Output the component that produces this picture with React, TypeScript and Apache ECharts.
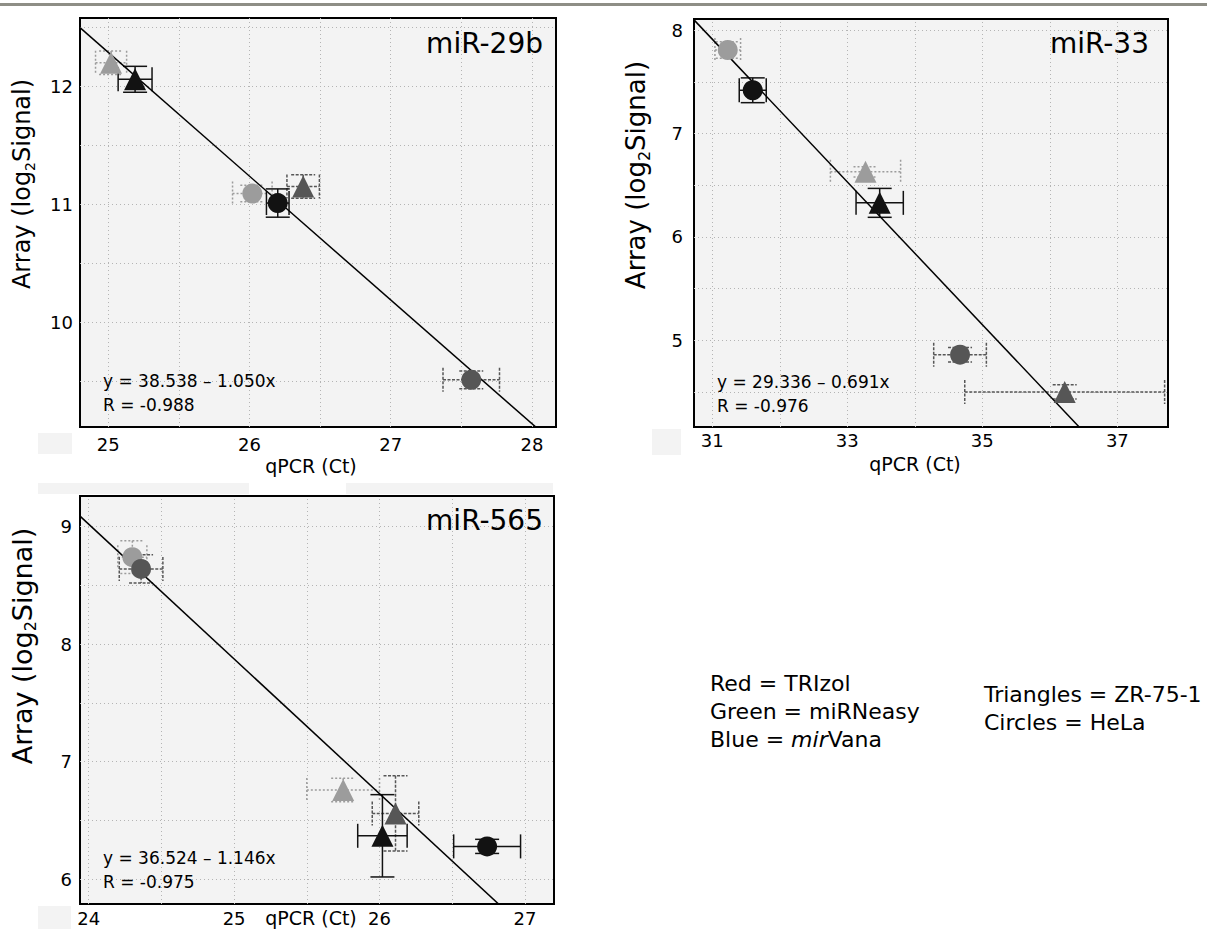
import React, { useEffect, useRef } from "react";
import * as echarts from "echarts";

// ---------- data ----------
// point order: miRNeasy ZR-75-1, miRNeasy HeLa, TRIzol ZR-75-1, TRIzol HeLa, mirVana ZR-75-1, mirVana HeLa
const pointMethod = [1, 1, 0, 0, 2, 2]; // 0 = TRIzol, 1 = miRNeasy, 2 = mirVana
const pointCell = ["ZR-75-1", "HeLa", "ZR-75-1", "HeLa", "ZR-75-1", "HeLa"];

const mir29bCt = [25.02, 26.02, 26.38, 27.57, 25.19, 26.2];
const mir29bArray = [12.2, 11.09, 11.15, 9.51, 12.06, 11.01];
const mir29bCtErr = [0.11, 0.14, 0.115, 0.2, 0.12, 0.08];
const mir29bArrayErr = [0.1, 0.07, 0.1, 0.075, 0.11, 0.12];

const mir33Ct = [33.27, 31.23, 36.22, 34.67, 33.48, 31.6];
const mir33Array = [6.63, 7.81, 4.5, 4.86, 6.33, 7.42];
const mir33CtErr = [0.52, 0.19, 1.48, 0.39, 0.35, 0.2];
const mir33ArrayErr = [0.05, 0.08, 0.07, 0.07, 0.14, 0.12];

const mir565Ct = [25.75, 24.3, 26.11, 24.36, 26.02, 26.74];
const mir565Array = [6.76, 8.74, 6.56, 8.64, 6.37, 6.28];
const mir565CtErr = [0.25, 0.1, 0.16, 0.15, 0.17, 0.23];
const mir565ArrayErr = [0.1, 0.14, 0.32, 0.12, 0.35, 0.06];

const plotNames = ["miR-29b", "miR-33", "miR-565"];
const fitIntercept = [38.538, 29.336, 36.524];
const fitSlope = [-1.05, -0.691, -1.146];
const fitR = [-0.988, -0.976, -0.975];

const xTicks1 = [25, 26, 27, 28];
const yTicks1 = [10, 11, 12];
const xTicks2 = [31, 33, 35, 37];
const yTicks2 = [5, 6, 7, 8];
const xTicks3 = [24, 25, 26, 27];
const yTicks3 = [6, 7, 8, 9];

const xGrid1 = [25, 25.5, 26, 26.5, 27, 27.5, 28];
const yGrid1 = [9.5, 10, 10.5, 11, 11.5, 12, 12.5];
const xGrid2 = [31, 32, 33, 34, 35, 36, 37];
const yGrid2 = [4.5, 5, 5.5, 6, 6.5, 7, 7.5, 8];
const xGrid3 = [24, 24.5, 25, 25.5, 26, 26.5, 27];
const yGrid3 = [6, 6.5, 7, 7.5, 8, 8.5, 9];

const methodColors = ["#565656", "#9c9c9c", "#121212"];
const methodBarDash: any[] = [[3, 1.5], [2, 2], null];
const FONT = "'DejaVu Sans', sans-serif";

const panels = [
  {
    ct: mir29bCt, arr: mir29bArray, ctErr: mir29bCtErr, arrErr: mir29bArrayErr,
    xTicks: xTicks1, yTicks: yTicks1, xGrid: xGrid1, yGrid: yGrid1,
    xMin: 24.8, xMax: 28.17, yMin: 9.11, yMax: 12.58,
    grid: { left: 80, top: 18, width: 476, height: 409 },
    xLabelMargin: 8, yLabelMargin: 7,
  },
  {
    ct: mir33Ct, arr: mir33Array, ctErr: mir33CtErr, arrErr: mir33ArrayErr,
    xTicks: xTicks2, yTicks: yTicks2, xGrid: xGrid2, yGrid: yGrid2,
    xMin: 30.73, xMax: 37.75, yMin: 4.16, yMax: 8.11,
    grid: { left: 694, top: 19, width: 474, height: 408 },
    xLabelMargin: 4, yLabelMargin: 11,
  },
  {
    ct: mir565Ct, arr: mir565Array, ctErr: mir565CtErr, arrErr: mir565ArrayErr,
    xTicks: xTicks3, yTicks: yTicks3, xGrid: xGrid3, yGrid: yGrid3,
    xMin: 23.94, xMax: 27.2, yMin: 5.79, yMax: 9.26,
    grid: { left: 80, top: 496, width: 474, height: 408 },
    xLabelMargin: 5, yLabelMargin: 8,
  },
];

function errorBarItem(params: any, api: any) {
  const x = api.value(0);
  const y = api.value(1);
  const xe = api.value(2);
  const ye = api.value(3);
  const m = api.value(4);
  const color = methodColors[m];
  const c = api.coord([x, y]);
  const l = api.coord([x - xe, y])[0];
  const r = api.coord([x + xe, y])[0];
  const t = api.coord([x, y + ye])[1];
  const b = api.coord([x, y - ye])[1];
  const cap = 12;
  const style: any = { stroke: color, lineWidth: 1.5, fill: null };
  if (methodBarDash[m]) style.lineDash = methodBarDash[m];
  const ln = (x1: number, y1: number, x2: number, y2: number) => ({
    type: "line",
    shape: { x1, y1, x2, y2 },
    style,
  });
  return {
    type: "group",
    children: [
      ln(l, c[1], r, c[1]),
      ln(l, c[1] - cap, l, c[1] + cap),
      ln(r, c[1] - cap, r, c[1] + cap),
      ln(c[0], t, c[0], b),
      ln(c[0] - cap, t, c[0] + cap, t),
      ln(c[0] - cap, b, c[0] + cap, b),
    ],
  };
}

function buildOption() {
  const grids: any[] = [];
  const xAxes: any[] = [];
  const yAxes: any[] = [];
  const series: any[] = [];
  const graphics: any[] = [];

  panels.forEach((p, i) => {
    grids.push({
      ...p.grid,
      show: true,
      backgroundColor: "#f3f3f3",
      borderColor: "#000",
      borderWidth: 2,
      containLabel: false,
    });
    xAxes.push({
      type: "value",
      gridIndex: i,
      min: p.xMin,
      max: p.xMax,
      axisLine: { show: false },
      axisTick: { show: false },
      splitLine: { show: false },
      axisLabel: {
        customValues: p.xTicks,
        margin: p.xLabelMargin,
        color: "#000",
        fontFamily: FONT,
        fontSize: 18,
      },
    });
    yAxes.push({
      type: "value",
      gridIndex: i,
      min: p.yMin,
      max: p.yMax,
      axisLine: { show: false },
      axisTick: { show: false },
      splitLine: { show: false },
      axisLabel: {
        customValues: p.yTicks,
        margin: p.yLabelMargin,
        color: "#000",
        fontFamily: FONT,
        fontSize: 18,
      },
    });

    const a = fitIntercept[i];
    const s = fitSlope[i];
    series.push({
      type: "line",
      xAxisIndex: i,
      yAxisIndex: i,
      data: [
        [p.xMin, a + s * p.xMin],
        [p.xMax, a + s * p.xMax],
      ],
      showSymbol: false,
      symbol: "none",
      clip: true,
      silent: true,
      z: 3,
      lineStyle: { color: "#000", width: 1.5 },
      markLine: {
        silent: true,
        symbol: ["none", "none"],
        label: { show: false },
        lineStyle: { type: [1, 3], color: "#b4b4b4", width: 1 },
        data: [
          ...p.xGrid.map((v) => ({ xAxis: v })),
          ...p.yGrid.map((v) => ({ yAxis: v })),
        ],
        z: 1,
      },
    });

    series.push({
      type: "custom",
      xAxisIndex: i,
      yAxisIndex: i,
      clip: true,
      silent: true,
      z: 2,
      renderItem: errorBarItem,
      encode: { x: 0, y: 1 },
      data: p.ct.map((x, k) => [x, p.arr[k], p.ctErr[k], p.arrErr[k], pointMethod[k]]),
    });

    series.push({
      type: "scatter",
      xAxisIndex: i,
      yAxisIndex: i,
      z: 4,
      silent: true,
      data: p.ct.map((x, k) => ({
        value: [x, p.arr[k]],
        symbol: pointCell[k] === "HeLa" ? "circle" : "triangle",
        symbolSize: pointCell[k] === "HeLa" ? 20 : 22,
        itemStyle: { color: methodColors[pointMethod[k]], opacity: 1 },
      })),
    });
  });

  const titlePos = [
    [543, 43],
    [1149, 43],
    [543, 520],
  ];
  const notePos = [
    [103, 381],
    [717, 382],
    [103, 858],
  ];
  const yTitlePos = [
    [22, 184, 24],
    [636, 175, 26],
    [22, 646, 27],
  ];
  const xNamePos = [
    [311, 466],
    [915, 464],
    [311, 918],
  ];

  // top rule
  graphics.push({
    type: "rect",
    shape: { x: 0, y: 3, width: 1207, height: 3 },
    style: { fill: "#8e8e86" },
  });
  // faint halftone patches from the scan
  const patches = [
    [38, 433, 34, 21],
    [38, 483, 211, 11],
    [346, 483, 207, 11],
    [652, 429, 29, 26],
    [38, 906, 33, 23],
  ];
  patches.forEach(([x, y, w, h]) =>
    graphics.push({ type: "rect", shape: { x, y, width: w, height: h }, style: { fill: "#f3f3f3" }, z: -1 })
  );

  for (let i = 0; i < 3; i++) {
    graphics.push({
      type: "text",
      x: titlePos[i][0],
      y: titlePos[i][1],
      style: {
        text: plotNames[i],
        textAlign: "right",
        textVerticalAlign: "middle",
        font: `28px ${FONT}`,
        fill: "#000",
      },
      z: 10,
    });
    graphics.push({
      type: "text",
      x: notePos[i][0],
      y: notePos[i][1],
      style: {
        text: `y = ${fitIntercept[i].toFixed(3)} \u2013 ${Math.abs(fitSlope[i]).toFixed(3)}x`,
        textAlign: "left",
        textVerticalAlign: "middle",
        font: `17px ${FONT}`,
        fill: "#000",
      },
      z: 10,
    });
    graphics.push({
      type: "text",
      x: notePos[i][0],
      y: notePos[i][1] + 24,
      style: {
        text: `R = ${fitR[i].toFixed(3)}`,
        textAlign: "left",
        textVerticalAlign: "middle",
        font: `17px ${FONT}`,
        fill: "#000",
      },
      z: 10,
    });
    const fs = yTitlePos[i][2];
    graphics.push({
      type: "text",
      x: yTitlePos[i][0],
      y: yTitlePos[i][1],
      rotation: Math.PI / 2,
      style: {
        text: "{m|Array (log}{s|2}{m|Signal)}",
        textAlign: "center",
        textVerticalAlign: "middle",
        rich: {
          m: { fontFamily: "DejaVu Sans", fontSize: fs, fill: "#000", verticalAlign: "middle", lineHeight: fs + 6 },
          s: { fontFamily: "DejaVu Sans", fontSize: Math.round(fs * 0.6), fill: "#000", verticalAlign: "bottom", lineHeight: fs + 6 },
        },
      },
      z: 10,
    });
    graphics.push({
      type: "text",
      x: xNamePos[i][0],
      y: xNamePos[i][1],
      style: {
        text: "qPCR (Ct)",
        textAlign: "center",
        textVerticalAlign: "middle",
        font: `19px ${FONT}`,
        fill: "#000",
      },
      z: 10,
    });
  }

  const legendItems = [
    { x: 710, y: 683, text: "Red = TRIzol" },
    { x: 710, y: 711, text: "Green = miRNeasy" },
    { x: 710, y: 739, text: "Blue = {i|mir}Vana" },
    { x: 984, y: 694, text: "Triangles = ZR-75-1" },
    { x: 984, y: 722, text: "Circles = HeLa" },
  ];
  legendItems.forEach((t) =>
    graphics.push({
      type: "text",
      x: t.x,
      y: t.y,
      style: {
        text: t.text,
        textAlign: "left",
        textVerticalAlign: "middle",
        fontFamily: "DejaVu Sans",
        fontSize: 22,
        fill: "#000",
        rich: {
          i: { fontFamily: "DejaVu Sans", fontSize: 22, fontStyle: "italic", fill: "#000" },
        },
      },
      z: 10,
    })
  );

  return {
    animation: false,
    backgroundColor: "#ffffff",
    grid: grids,
    xAxis: xAxes,
    yAxis: yAxes,
    series,
    graphic: graphics,
  };
}

export default function App() {
  const ref = useRef<HTMLDivElement | null>(null);
  useEffect(() => {
    if (!ref.current) return;
    const chart = echarts.init(ref.current, null, { renderer: "svg" });
    chart.setOption(buildOption() as any);
    return () => chart.dispose();
  }, []);
  return (
    <div
      ref={ref}
      style={{ position: "fixed", left: 0, top: 0, width: 1207, height: 929, background: "#fff" }}
    />
  );
}
